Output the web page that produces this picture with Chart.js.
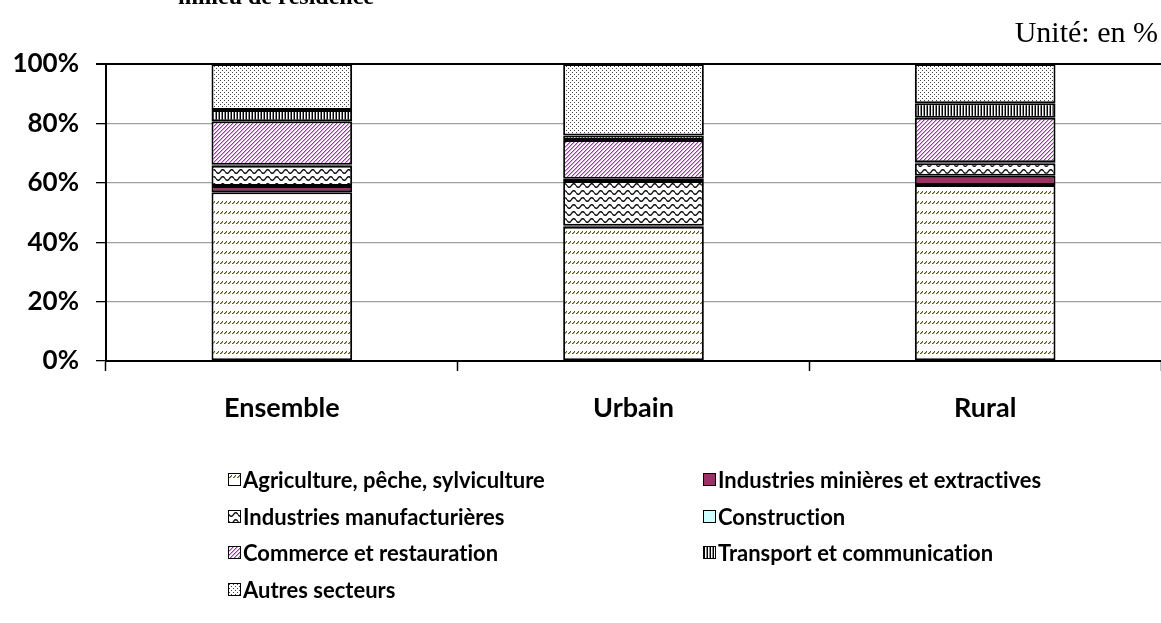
<!DOCTYPE html>
<html>
<head>
<meta charset="utf-8">
<script src="https://cdn.jsdelivr.net/npm/chart.js@4.4.1/dist/chart.umd.min.js"></script>
<style>
  body { margin: 0; background: #fff; }
  #wrap { position: relative; width: 1161px; height: 623px; overflow: hidden; }
  #chart { position: absolute; left: 0; top: 0; }
  .title { position: absolute; left: 178px; top: -17px; font: bold 24px "Liberation Serif", serif; color: #000; white-space: nowrap; }
  .unit { position: absolute; right: 3px; top: 15px; font: 30px "Liberation Serif", serif; color: #000; white-space: nowrap; }
  .leg { position: absolute; font: bold 22px Lato, sans-serif; font-variant-ligatures: none; color: #000; white-space: nowrap; display: flex; align-items: center; }
  .leg canvas { width: 11px; height: 11px; border: 1px solid #000; margin-right: 2px; }
</style>
</head>
<body>
<div id="wrap">
  <canvas id="chart" width="1161" height="623"></canvas>
  <div class="title">milieu de résidence</div>
  <div class="unit">Unité: en %</div>
  <div id="legend"></div>
</div>
<script>
// Data (percent of employed, by sector)
const categories = ["Ensemble", "Urbain", "Rural"];
const sectors = [
  "Agriculture, pêche, sylviculture",
  "Industries minières et extractives",
  "Industries manufacturières",
  "Construction",
  "Commerce et restauration",
  "Transport et communication",
  "Autres secteurs"
];
const agriculture = [56.8, 45.2, 59.3];
const mines = [2.1, 0.3, 3.1];
const manufacturieres = [6.8, 15.1, 4.2];
const construction = [0.4, 0.8, 0.3];
const commerce = [14.6, 13.0, 15.0];
const transport = [3.8, 1.5, 4.9];
const autres = [15.5, 24.1, 13.2];
const yTicks = [0, 20, 40, 60, 80, 100];

// small tile patterns, like the excel fills
function tile(w, h, draw) {
  const c = document.createElement("canvas");
  c.width = w; c.height = h;
  const g = c.getContext("2d");
  g.fillStyle = "#fff";
  g.fillRect(0, 0, w, h);
  draw(g);
  return c;
}

const tiles = [
  // agriculture: rows of little olive slashes
  tile(4, 10, g => {
    g.fillStyle = "#55551f";
    g.fillRect(0, 3, 1, 1); g.fillRect(1, 2, 1, 1); g.fillRect(2, 1, 1, 1);
    g.fillStyle = "#a0a070";
    g.fillRect(1, 3, 1, 1); g.fillRect(2, 2, 1, 1);
  }),
  tile(4, 4, g => { g.fillStyle = "#993366"; g.fillRect(0, 0, 4, 4); }),
  // waves
  tile(9, 7, g => {
    g.strokeStyle = "#111"; g.lineWidth = 1.4;
    g.beginPath();
    for (let x = 0; x <= 9; x += 0.5) {
      const y = 3.5 + 1.8 * Math.sin(x / 9 * Math.PI * 2);
      if (x === 0) g.moveTo(x, y); else g.lineTo(x, y);
    }
    g.stroke();
  }),
  tile(4, 4, g => { g.fillStyle = "#ccffff"; g.fillRect(0, 0, 4, 4); }),
  // commerce: dense purple diagonals
  tile(4, 4, g => {
    g.fillStyle = "#a030b0";
    g.fillRect(3, 0, 1, 1); g.fillRect(2, 1, 1, 1); g.fillRect(1, 2, 1, 1); g.fillRect(0, 3, 1, 1);
    g.fillStyle = "#d8a8dc";
    g.fillRect(0, 0, 1, 1); g.fillRect(3, 1, 1, 1); g.fillRect(2, 2, 1, 1); g.fillRect(1, 3, 1, 1);
  }),
  // transport: vertical stripes
  tile(3, 2, g => {
    g.fillStyle = "#000"; g.fillRect(0, 0, 1, 2);
    g.fillStyle = "#888"; g.fillRect(2, 0, 1, 2);
  }),
  // autres: sparse dots
  tile(4, 4, g => {
    g.fillStyle = "#444";
    g.fillRect(0, 0, 1, 1); g.fillRect(2, 2, 1, 1);
  })
];

const ctx = document.getElementById("chart").getContext("2d");
const fills = tiles.map(t => ctx.createPattern(t, "repeat"));
const series = [agriculture, mines, manufacturieres, construction, commerce, transport, autres];

new Chart(ctx, {
  type: "bar",
  data: {
    labels: categories,
    datasets: series.map((d, i) => ({
      label: sectors[i],
      data: d,
      backgroundColor: fills[i],
      borderColor: "#000",
      borderWidth: 2,
      borderSkipped: false,
      barPercentage: 0.4,
      categoryPercentage: 1
    }))
  },
  options: {
    responsive: false,
    animation: false,
    layout: { padding: { top: 64, right: 0, left: 0, bottom: 0 } },
    plugins: { legend: { display: false }, tooltip: { enabled: false } },
    scales: {
      x: {
        stacked: true,
        grid: { offset: true, drawOnChartArea: false, tickLength: 10, tickColor: "#000", tickWidth: 1.5 },
        border: { color: "#000", width: 2 },
        ticks: { color: "#000", font: { family: "Lato", size: 27, weight: "bold" }, padding: 21 },
        afterFit: s => { s.height = 262; }
      },
      y: {
        stacked: true,
        min: 0,
        max: 100,
        afterBuildTicks: s => { s.ticks = yTicks.map(v => ({ value: v })); },
        grid: {
          color: c => c.tick && c.tick.value === 100 ? "#000" : "#a0a0a0",
          lineWidth: c => c.tick && c.tick.value === 100 ? 2 : 1.3,
          tickLength: 10,
          tickColor: "#000"
        },
        border: { color: "#000", width: 2 },
        ticks: { color: "#000", font: { family: "Lato", size: 26, weight: "bold" }, padding: 17, callback: v => v + "%" },
        afterFit: s => { s.width = 106; }
      }
    }
  }
});

// legend in two columns
const legend = document.getElementById("legend");
const cols = [228, 703];
sectors.forEach((name, i) => {
  const item = document.createElement("div");
  item.className = "leg";
  item.style.left = cols[i % 2] + "px";
  item.style.top = (466 + Math.floor(i / 2) * 36.5) + "px";
  const sw = document.createElement("canvas");
  sw.width = 11; sw.height = 11;
  const g = sw.getContext("2d");
  g.fillStyle = g.createPattern(tiles[i], "repeat");
  g.fillRect(0, 0, 11, 11);
  item.appendChild(sw);
  const t = document.createElement("span");
  t.textContent = name;
  item.appendChild(t);
  legend.appendChild(item);
});
</script>
</body>
</html>
